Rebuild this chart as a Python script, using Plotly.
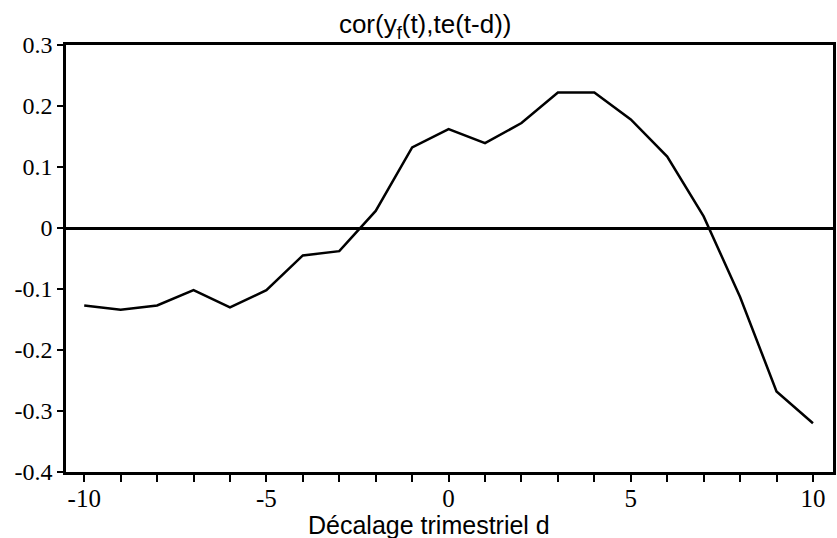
import plotly.graph_objects as go

lags = list(range(-10, 11))
corr = [-0.127, -0.134, -0.127, -0.102, -0.130, -0.102, -0.045, -0.038, 0.028, 0.132,
        0.162, 0.139, 0.172, 0.222, 0.222, 0.178, 0.117, 0.019, -0.113, -0.268, -0.320]

x_tickvals = [-10, -5, 0, 5, 10]
x_ticktext = ["-10", "-5", "0", "5", "10"]
x_minor = list(range(-10, 11))
y_tickvals = [0.3, 0.2, 0.1, 0, -0.1, -0.2, -0.3, -0.4]
y_ticktext = ["0.3", "0.2", "0.1", "0", "-0.1", "-0.2", "-0.3", "-0.4"]

title_text = "cor(y<sub>f</sub>(t),te(t-d))"
xlabel = "Décalage trimestriel d"

fig = go.Figure()
fig.add_trace(go.Scatter(x=lags, y=corr, mode="lines",
                         line=dict(color="black", width=2.5), showlegend=False))

fig.update_layout(
    width=837, height=538,
    margin=dict(l=66, r=1, t=45, b=66),
    paper_bgcolor="white", plot_bgcolor="white",
    title=dict(text=title_text, x=0.508, xanchor="center",
               y=0.955, yanchor="middle",
               font=dict(family="Liberation Sans, Arial", size=26, color="black")),
)
fig.add_annotation(text=xlabel, xref="paper", yref="paper",
                   x=0.473, y=-0.125, xanchor="center", yanchor="middle",
                   showarrow=False,
                   font=dict(family="Liberation Sans, Arial", size=25, color="black"))
fig.update_xaxes(
    range=[-10.5, 10.55], tickvals=x_tickvals, ticktext=x_ticktext,
    ticks="outside", ticklen=7, tickwidth=2, tickcolor="black",
    ticklabelstandoff=-5,
    minor=dict(tickvals=x_minor, ticks="outside", ticklen=7, tickwidth=2,
               tickcolor="black", showgrid=False),
    showline=True, linecolor="black", linewidth=2.5, mirror=True,
    showgrid=False, zeroline=False,
    tickfont=dict(family="Liberation Serif, Times New Roman", size=25, color="black"),
)
fig.update_yaxes(
    range=[-0.4, 0.3], tickvals=y_tickvals, ticktext=y_ticktext,
    ticks="outside", ticklen=6, tickwidth=2, tickcolor="black",
    showline=True, linecolor="black", linewidth=2.5, mirror=True,
    showgrid=False, zeroline=True, zerolinecolor="black", zerolinewidth=2.5,
    tickfont=dict(family="Liberation Serif, Times New Roman", size=24, color="black"),
)

fig.write_html("out.html")
